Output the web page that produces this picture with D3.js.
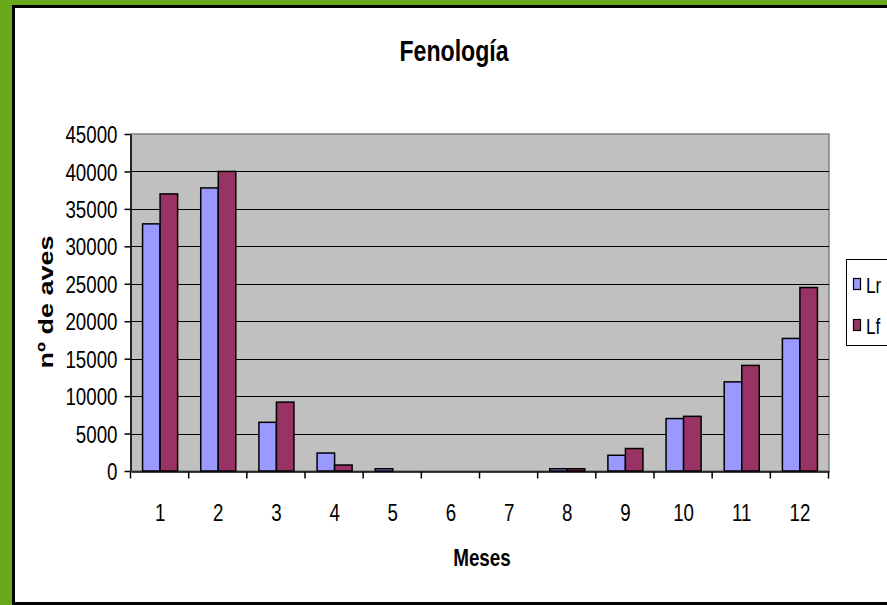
<!DOCTYPE html>
<html>
<head>
<meta charset="utf-8">
<script src="https://cdn.jsdelivr.net/npm/d3@7"></script>
<style>
    body { margin: 0; background: #ffffff; }
    text { font-family: "Liberation Sans", Arial, sans-serif; fill: #000; }
</style>
</head>
<body>
<svg id="chart" width="887" height="605"></svg>
<script>
// months and bird counts per series
const months = ['1', '2', '3', '4', '5', '6', '7', '8', '9', '10', '11', '12'];
const seriesNames = ['Lr', 'Lf'];
const lrValues = [33000, 37800, 6500, 2400, 300, 0, 0, 300, 2100, 7000, 11900, 17700];
const lfValues = [37000, 40000, 9200, 800, 0, 0, 0, 300, 3000, 7300, 14100, 24500];
const yTicks = [0, 5000, 10000, 15000, 20000, 25000, 30000, 35000, 40000, 45000];

const colors = { Lr: '#9999FF', Lf: '#993366' };
const squash = 0.78; // text in the picture is narrowed horizontally

const svg = d3.select('#chart');

// frame: green outside, black border, white inside
svg.append('rect').attr('width', 887).attr('height', 605).attr('fill', '#68A91C');
svg.append('rect')
    .attr('x', 13.5).attr('y', 6.5)
    .attr('width', 900).attr('height', 597)
    .attr('fill', '#ffffff')
    .attr('stroke', '#000').attr('stroke-width', 3);

const plot = { left: 131, right: 829, top: 134, bottom: 471 };

const x = d3.scaleBand().domain(months).range([plot.left, plot.right]);
const xs = d3.scaleBand().domain(seriesNames).range([0, x.bandwidth()]).paddingOuter(0.66);
const y = d3.scaleLinear().domain([0, 45000]).range([plot.bottom, plot.top]);

// plot area
svg.append('rect')
    .attr('x', plot.left).attr('y', plot.top)
    .attr('width', plot.right - plot.left).attr('height', plot.bottom - plot.top)
    .attr('fill', '#C0C0C0')
    .attr('stroke', '#808080').attr('stroke-width', 1.5);

// gridlines
svg.append('g')
    .selectAll('line')
    .data(yTicks.filter(d => d > 0 && d < 45000))
    .enter()
    .append('line')
    .attr('x1', plot.left).attr('x2', plot.right)
    .attr('y1', d => Math.round(y(d)) + 0.5)
    .attr('y2', d => Math.round(y(d)) + 0.5)
    .attr('stroke', '#000').attr('stroke-width', 1);

// bars
const rows = months.map((m, i) => ({ month: m, Lr: lrValues[i], Lf: lfValues[i] }));

svg.append('g')
    .selectAll('g')
    .data(rows)
    .enter()
    .append('g')
    .attr('transform', d => 'translate(' + x(d.month) + ',0)')
    .selectAll('rect')
    .data(d => seriesNames.map(k => ({ key: k, value: d[k] })))
    .enter()
    .filter(d => d.value > 0)
    .append('rect')
    .attr('x', d => xs(d.key))
    .attr('width', xs.bandwidth())
    .attr('y', d => y(d.value))
    .attr('height', d => y(0) - y(d.value))
    .attr('fill', d => colors[d.key])
    .attr('stroke', '#000').attr('stroke-width', 1.5);

// y axis
const yAxis = svg.append('g')
    .attr('transform', 'translate(' + (plot.left - 0.5) + ',0)')
    .call(d3.axisLeft(y).tickValues(yTicks).tickSize(6).tickSizeOuter(0).tickFormat(d3.format('d')));
yAxis.select('.domain').attr('stroke', '#000').attr('stroke-width', 1.5);
yAxis.selectAll('.tick line').attr('stroke', '#000').attr('stroke-width', 1.5);
yAxis.selectAll('.tick text')
    .attr('x', -13 / squash)
    .attr('dy', '0.36em')
    .attr('transform', 'scale(' + squash + ',1)')
    .style('font-size', '24px')
    .style('font-family', '"Liberation Sans", Arial, sans-serif');

// x axis
const xAxis = svg.append('g')
    .attr('transform', 'translate(0,' + (plot.bottom + 0.5) + ')')
    .call(d3.axisBottom(x).tickSize(0).tickSizeOuter(0));
xAxis.select('.domain').attr('stroke', '#000').attr('stroke-width', 1.5);
xAxis.selectAll('.tick text')
    .attr('y', 50).attr('dy', 0)
    .attr('x', 0)
    .attr('transform', 'scale(' + squash + ',1)')
    .style('font-size', '24px')
    .style('font-family', '"Liberation Sans", Arial, sans-serif');
xAxis.selectAll('.tick').each(function (d) {
    d3.select(this).attr('transform', 'translate(' + (x(d) + x.bandwidth() / 2) + ',0)');
});

// category boundary tick marks
xAxis.append('g')
    .selectAll('line')
    .data(months.concat(['end']))
    .enter()
    .append('line')
    .attr('x1', (d, i) => plot.left + i * x.bandwidth() - 0.5)
    .attr('x2', (d, i) => plot.left + i * x.bandwidth() - 0.5)
    .attr('y1', 0).attr('y2', 7)
    .attr('stroke', '#000').attr('stroke-width', 1.5);

// titles
svg.append('text')
    .attr('transform', 'translate(454,61) scale(0.77,1)')
    .attr('text-anchor', 'middle')
    .style('font-size', '30px').style('font-weight', 'bold')
    .text('Fenología');

svg.append('text')
    .attr('transform', 'translate(482,566) scale(0.82,1)')
    .attr('text-anchor', 'middle')
    .style('font-size', '23px').style('font-weight', 'bold')
    .text('Meses');

svg.append('text')
    .attr('transform', 'translate(53,302) scale(' + squash + ',1) rotate(-90)')
    .attr('text-anchor', 'middle')
    .style('font-size', '27px').style('font-weight', 'bold')
    .text('nº de aves');

// legend (cut off at the right edge, as in the picture)
const legend = svg.append('g');
legend.append('rect')
    .attr('x', 846.5).attr('y', 259.5)
    .attr('width', 60).attr('height', 86)
    .attr('fill', '#ffffff').attr('stroke', '#000').attr('stroke-width', 1);

const items = legend.selectAll('.item')
    .data(seriesNames)
    .enter()
    .append('g')
    .attr('transform', (d, i) => 'translate(0,' + (i * 41) + ')');
items.append('rect')
    .attr('x', 853.5).attr('y', 278.5)
    .attr('width', 7).attr('height', 11)
    .attr('fill', d => colors[d])
    .attr('stroke', '#000').attr('stroke-width', 1.2);
items.append('text')
    .attr('transform', 'translate(866,293) scale(' + squash + ',1)')
    .style('font-size', '22px')
    .text(d => d);
</script>
</body>
</html>
